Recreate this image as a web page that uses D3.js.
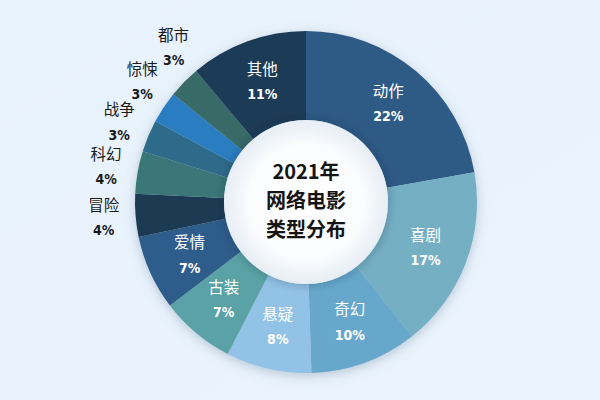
<!DOCTYPE html>
<html><head><meta charset="utf-8">
<script src="https://cdn.jsdelivr.net/npm/d3@7"></script>
<style>
html,body{margin:0;padding:0;background:#eaf3fc;}
svg{display:block;}
</style></head>
<body>
<svg id="chart" width="600" height="400"></svg>
<script>
const categories = ["动作","喜剧","奇幻","悬疑","古装","爱情","冒险","科幻","战争","惊悚","都市","其他"];
const values = [22,17,10,8,7,7,4,4,3,3,3,11];
const colors = ["#2f5a86","#74afc3","#66a7cb","#92c2e6","#5aa2a5","#2f5b8b","#1e3a53","#3b7679","#2e6b8a","#2a7dc0","#396b68","#1f3a56"];
const outsideLabels = ["冒险","科幻","战争","惊悚","都市"];
const centerLines = ["2021年","网络电影","类型分布"];

const svg = d3.select("#chart");
const W = 600, H = 400, cx = 306, cy = 202;
const rOuter = 171, rInner = 82;

const defs = svg.append("defs");
const bg = defs.append("linearGradient").attr("id","bg").attr("x1",0).attr("y1",0).attr("x2",1).attr("y2",1);
bg.append("stop").attr("offset","0%").attr("stop-color","#e8f2fc");
bg.append("stop").attr("offset","100%").attr("stop-color","#ebf4fd");
svg.append("rect").attr("width",W).attr("height",H).attr("fill","url(#bg)");

const sh = defs.append("filter").attr("id","sh").attr("x","-30%").attr("y","-30%").attr("width","160%").attr("height","160%");
sh.append("feDropShadow").attr("dx",0).attr("dy",3).attr("stdDeviation",6).attr("flood-color","#5a7590").attr("flood-opacity",0.35);
const sh2 = defs.append("filter").attr("id","sh2").attr("x","-30%").attr("y","-30%").attr("width","160%").attr("height","160%");
sh2.append("feDropShadow").attr("dx",0).attr("dy",0).attr("stdDeviation",5).attr("flood-color","#1a2a3a").attr("flood-opacity",0.35);
const rg = defs.append("radialGradient").attr("id","disc");
rg.append("stop").attr("offset","0%").attr("stop-color","#ffffff");
rg.append("stop").attr("offset","70%").attr("stop-color","#fbfcfe");
rg.append("stop").attr("offset","100%").attr("stop-color","#e6edf4");

const g = svg.append("g").attr("transform",`translate(${cx},${cy})`);
const data = categories.map((c,i)=>({name:c, value:values[i], color:colors[i]}));
const pie = d3.pie().sort(null).value(d=>d.value);
const arcs = pie(data);
const arc = d3.arc().innerRadius(rInner).outerRadius(rOuter);
const labelArcIn = d3.arc().innerRadius(128).outerRadius(128);

// outside labels: place at mid-angle, pushing apart to a minimum angular gap
const rLabelOut = 203, minGap = 13.1 * Math.PI / 180;
let prev = -Infinity;
arcs.forEach(d=>{
  if (outsideLabels.includes(d.data.name)) {
    let a = (d.startAngle + d.endAngle) / 2;
    if (a < prev + minGap) a = prev + minGap;
    prev = a;
    d.labelPos = [rLabelOut * Math.sin(a), -rLabelOut * Math.cos(a)];
  } else {
    d.labelPos = labelArcIn.centroid(d);
  }
});

g.append("g").attr("filter","url(#sh)")
 .selectAll("path").data(arcs).join("path")
 .attr("d",arc).attr("fill",d=>d.data.color);

g.append("circle").attr("r",rInner).attr("fill","url(#disc)").attr("filter","url(#sh2)");

const isOut = d=>outsideLabels.includes(d.data.name);
const lab = g.append("g").selectAll("g").data(arcs).join("g")
 .attr("transform",d=>`translate(${d.labelPos[0]},${d.labelPos[1]})`);
lab.append("text").attr("text-anchor","middle").attr("y",-12.5).attr("dy","0.35em")
 .attr("font-family","'Noto Sans CJK SC',sans-serif").attr("font-size",15.5)
 .attr("fill",d=>isOut(d)?"#1a1a1a":"#ffffff")
 .text(d=>d.data.name);
lab.append("text").attr("text-anchor","middle").attr("y",12.5).attr("dy","0.35em")
 .attr("font-family","'DejaVu Sans Condensed','DejaVu Sans',sans-serif").attr("font-stretch","condensed")
 .attr("font-weight","bold").attr("font-size",14)
 .attr("fill",d=>isOut(d)?"#1a1a1a":"#ffffff")
 .text(d=>d.data.value+"%");

g.append("g").selectAll("text").data(centerLines).join("text")
 .attr("text-anchor","middle").attr("y",(d,i)=>(i-1)*29 - 1).attr("dy","0.35em")
 .attr("font-family","'Noto Sans CJK SC',sans-serif").attr("font-weight","bold").attr("font-size",20)
 .attr("fill","#151515").text(d=>d);
</script>
</body></html>
